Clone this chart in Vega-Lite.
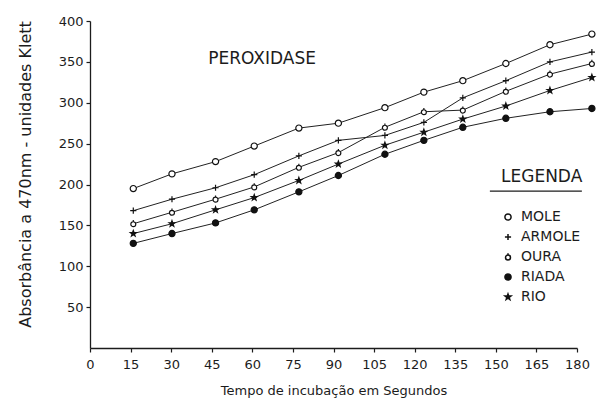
{
  "$schema": "https://vega.github.io/schema/vega-lite/v6.json",
  "width": 487,
  "height": 327,
  "autosize": {"type": "none"},
  "padding": {"left": 90, "top": 21, "right": 26, "bottom": 54},
  "background": "white",
  "config": {
    "view": {"stroke": null},
    "font": "DejaVu Sans",
    "axis": {
      "grid": false,
      "domainColor": "#1c1c1c",
      "domainWidth": 1.3,
      "tickColor": "#1c1c1c",
      "tickWidth": 1.2,
      "tickSize": 4,
      "labelColor": "#1c1c1c",
      "labelFont": "DejaVu Sans",
      "labelFontSize": 13,
      "titleColor": "#1c1c1c",
      "titleFont": "DejaVu Sans",
      "titleFontWeight": "normal"
    },
    "legend": {
      "titleFont": "DejaVu Sans",
      "titleFontSize": 17,
      "titleFontWeight": "normal",
      "titleColor": "#1c1c1c",
      "labelFont": "DejaVu Sans",
      "labelFontSize": 14,
      "labelColor": "#1c1c1c"
    }
  },
  "layer": [
    {
      "data": {
        "values": [
          {"serie": "MOLE", "tempo": 16, "absorbancia": 195},
          {"serie": "MOLE", "tempo": 30.3, "absorbancia": 213},
          {"serie": "MOLE", "tempo": 46.4, "absorbancia": 228},
          {"serie": "MOLE", "tempo": 60.7, "absorbancia": 247},
          {"serie": "MOLE", "tempo": 77.2, "absorbancia": 269},
          {"serie": "MOLE", "tempo": 91.8, "absorbancia": 275},
          {"serie": "MOLE", "tempo": 109, "absorbancia": 294},
          {"serie": "MOLE", "tempo": 123.4, "absorbancia": 313},
          {"serie": "MOLE", "tempo": 137.8, "absorbancia": 327},
          {"serie": "MOLE", "tempo": 153.7, "absorbancia": 348},
          {"serie": "MOLE", "tempo": 170, "absorbancia": 371},
          {"serie": "MOLE", "tempo": 185.5, "absorbancia": 384},
          {"serie": "ARMOLE", "tempo": 16, "absorbancia": 168},
          {"serie": "ARMOLE", "tempo": 30.3, "absorbancia": 182},
          {"serie": "ARMOLE", "tempo": 46.4, "absorbancia": 196},
          {"serie": "ARMOLE", "tempo": 60.7, "absorbancia": 212},
          {"serie": "ARMOLE", "tempo": 77.2, "absorbancia": 235},
          {"serie": "ARMOLE", "tempo": 91.8, "absorbancia": 254},
          {"serie": "ARMOLE", "tempo": 109, "absorbancia": 260},
          {"serie": "ARMOLE", "tempo": 123.4, "absorbancia": 276},
          {"serie": "ARMOLE", "tempo": 137.8, "absorbancia": 306},
          {"serie": "ARMOLE", "tempo": 153.7, "absorbancia": 327},
          {"serie": "ARMOLE", "tempo": 170, "absorbancia": 350},
          {"serie": "ARMOLE", "tempo": 185.5, "absorbancia": 362},
          {"serie": "OURA", "tempo": 16, "absorbancia": 152},
          {"serie": "OURA", "tempo": 30.3, "absorbancia": 166},
          {"serie": "OURA", "tempo": 46.4, "absorbancia": 182},
          {"serie": "OURA", "tempo": 60.7, "absorbancia": 197},
          {"serie": "OURA", "tempo": 77.2, "absorbancia": 221},
          {"serie": "OURA", "tempo": 91.8, "absorbancia": 239},
          {"serie": "OURA", "tempo": 109, "absorbancia": 270},
          {"serie": "OURA", "tempo": 123.4, "absorbancia": 289},
          {"serie": "OURA", "tempo": 137.8, "absorbancia": 291},
          {"serie": "OURA", "tempo": 153.7, "absorbancia": 314},
          {"serie": "OURA", "tempo": 170, "absorbancia": 335},
          {"serie": "OURA", "tempo": 185.5, "absorbancia": 348},
          {"serie": "RIADA", "tempo": 16, "absorbancia": 128},
          {"serie": "RIADA", "tempo": 30.3, "absorbancia": 140},
          {"serie": "RIADA", "tempo": 46.4, "absorbancia": 153},
          {"serie": "RIADA", "tempo": 60.7, "absorbancia": 169},
          {"serie": "RIADA", "tempo": 77.2, "absorbancia": 191},
          {"serie": "RIADA", "tempo": 91.8, "absorbancia": 211},
          {"serie": "RIADA", "tempo": 109, "absorbancia": 237},
          {"serie": "RIADA", "tempo": 123.4, "absorbancia": 254},
          {"serie": "RIADA", "tempo": 137.8, "absorbancia": 270},
          {"serie": "RIADA", "tempo": 153.7, "absorbancia": 281},
          {"serie": "RIADA", "tempo": 170, "absorbancia": 289},
          {"serie": "RIADA", "tempo": 185.5, "absorbancia": 293},
          {"serie": "RIO", "tempo": 16, "absorbancia": 140},
          {"serie": "RIO", "tempo": 30.3, "absorbancia": 152},
          {"serie": "RIO", "tempo": 46.4, "absorbancia": 169},
          {"serie": "RIO", "tempo": 60.7, "absorbancia": 184},
          {"serie": "RIO", "tempo": 77.2, "absorbancia": 205},
          {"serie": "RIO", "tempo": 91.8, "absorbancia": 225},
          {"serie": "RIO", "tempo": 109, "absorbancia": 248},
          {"serie": "RIO", "tempo": 123.4, "absorbancia": 264},
          {"serie": "RIO", "tempo": 137.8, "absorbancia": 280},
          {"serie": "RIO", "tempo": 153.7, "absorbancia": 296},
          {"serie": "RIO", "tempo": 170, "absorbancia": 315},
          {"serie": "RIO", "tempo": 185.5, "absorbancia": 331}
        ]
      },
      "layer": [
        {
          "mark": {"type": "line", "stroke": "#222222", "strokeWidth": 1, "clip": false},
          "encoding": {
            "x": {
              "field": "tempo", "type": "quantitative",
              "scale": {"domain": [0, 180], "nice": false},
              "axis": {
                "values": [0, 15, 30, 45, 60, 75, 90, 105, 120, 135, 150, 165, 180],
                "title": "Tempo de incubação em Segundos",
                "titleFontSize": 13,
                "titleY": 36,
                "labelPadding": 6,
                "labelFlush": false
              }
            },
            "y": {
              "field": "absorbancia", "type": "quantitative",
              "scale": {"domain": [0, 400], "nice": false},
              "axis": {
                "values": [50, 100, 150, 200, 250, 300, 350, 400],
                "title": "Absorbância a 470nm - unidades Klett",
                "titleFontSize": 16,
                "titleX": -57,
                "titleY": 153,
                "labelPadding": 3
              }
            },
            "detail": {"field": "serie"}
          }
        },
        {
          "mark": {"type": "point", "filled": true, "stroke": "#111111", "strokeWidth": 1.2, "size": 38, "opacity": 1, "clip": false},
          "encoding": {
            "x": {"field": "tempo", "type": "quantitative", "title": "Tempo de incubação em Segundos"},
            "y": {"field": "absorbancia", "type": "quantitative", "title": "Absorbância a 470nm - unidades Klett"},
            "shape": {
              "field": "serie", "type": "nominal",
              "scale": {
                "domain": ["MOLE", "ARMOLE", "OURA", "RIADA", "RIO"],
                "range": [
                  "circle",
                  "M-1,0L1,0M0,-1L0,1",
                  "M0.8,0.15A0.8,0.8,0,1,1,-0.8,0.15A0.8,0.8,0,1,1,0.8,0.15M0,-0.65L0,-1.2",
                  "circle",
                  "M0,-1L0.235,-0.324L0.951,-0.309L0.38,0.124L0.588,0.809L0,0.4L-0.588,0.809L-0.38,0.124L-0.951,-0.309L-0.235,-0.324Z"
                ]
              },
              "legend": {
                "title": "LEGENDA",
                "orient": "none",
                "legendX": 411,
                "legendY": 148,
                "titlePadding": 24,
                "labelOffset": 6,
                "rowPadding": 6,
                "symbolSize": 38,
                "encode": {
                  "symbols": {
                    "update": {
                      "stroke": {"value": "#111111"},
                      "strokeWidth": {"value": 1.2}
                    }
                  }
                }
              }
            },
            "fill": {
              "field": "serie", "type": "nominal",
              "scale": {
                "domain": ["MOLE", "ARMOLE", "OURA", "RIADA", "RIO"],
                "range": ["#ffffff", "#111111", "#ffffff", "#111111", "#111111"]
              },
              "legend": {
                "title": "LEGENDA",
                "orient": "none",
                "legendX": 411,
                "legendY": 148,
                "titlePadding": 24,
                "labelOffset": 6,
                "rowPadding": 6,
                "symbolSize": 38,
                "encode": {
                  "symbols": {
                    "update": {
                      "stroke": {"value": "#111111"},
                      "strokeWidth": {"value": 1.2}
                    }
                  }
                }
              }
            }
          }
        }
      ]
    },
    {
      "data": {"values": [{"rotulo": "PEROXIDASE"}]},
      "mark": {"type": "text", "font": "DejaVu Sans", "fontSize": 17, "fill": "#1c1c1c", "align": "center", "baseline": "middle"},
      "encoding": {
        "text": {"field": "rotulo"},
        "x": {"datum": 63.6, "type": "quantitative"},
        "y": {"datum": 353.5, "type": "quantitative"}
      }
    },
    {
      "data": {"values": [{"rotulo": "sublinhado"}]},
      "mark": {"type": "rule", "color": "#1c1c1c", "strokeWidth": 1.3},
      "encoding": {
        "x": {"datum": 147.8, "type": "quantitative"},
        "x2": {"datum": 181.8},
        "y": {"datum": 192, "type": "quantitative"}
      }
    }
  ]
}
